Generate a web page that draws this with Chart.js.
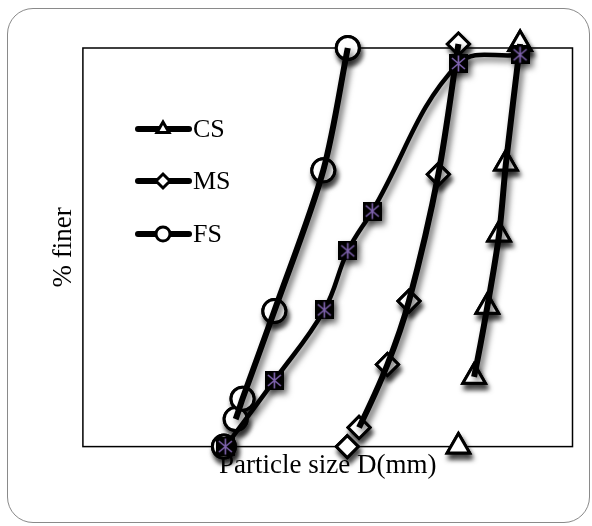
<!DOCTYPE html>
<html>
<head>
<meta charset="utf-8">
<script src="https://cdn.jsdelivr.net/npm/chart.js@4.4.1/dist/chart.umd.min.js"></script>
<style>
  html, body { margin: 0; padding: 0; background: #fff; }
  #wrap { position: relative; width: 592px; height: 526px; overflow: hidden; }
  #frame {
    position: absolute; left: 7px; top: 8px; width: 583px; height: 515px;
    border: 1.5px solid #8a8a8a; border-radius: 26px; box-sizing: border-box;
  }
  canvas { position: absolute; left: 0; top: 0; }
</style>
</head>
<body>
<div id="wrap">
  <div id="frame"></div>
  <canvas id="grading" width="592" height="526"></canvas>
</div>
<script>
// sieve curves (x is relative position, y is % finer)
const csX = [76.7, 79.9, 82.6, 85.0, 86.4, 89.3];
const csY = [0, 17.5, 35.1, 53.2, 71.0, 101];
const msX = [54.0, 56.4, 62.2, 66.6, 72.6, 76.7];
const msY = [0, 4.8, 20.6, 36.5, 68.3, 101];
const fsX = [28.8, 31.2, 32.6, 39.1, 49.1, 54.1];
const fsY = [0, 6.9, 12.0, 34.0, 69.3, 100];
// unlabelled mix curve with square/star markers
const mixX = [29.1, 39.1, 49.3, 54.1, 59.1, 76.7, 89.3];
const mixY = [0, 16.6, 34.3, 49.1, 59.1, 96.1, 98.3];

const seriesNames = ['CS', 'MS', 'FS'];
const seriesMarks = ['triangle', 'rectRot', 'circle'];
const legendY = [129, 181, 234];

const SERIF = '"Liberation Serif", "Times New Roman", serif';

const toPoints = (xs, ys) => xs.map((x, i) => ({ x, y: ys[i] }));

// black square with purple asterisk
const makeSquareStar = () => {
  const c = document.createElement('canvas');
  c.width = 19;
  c.height = 19;
  const g = c.getContext('2d');
  g.fillStyle = '#000';
  g.fillRect(0, 0, 19, 19);
  g.strokeStyle = '#8064b0';
  g.lineWidth = 1.6;
  g.beginPath();
  g.moveTo(9.5, 1.5); g.lineTo(9.5, 17.5);
  g.moveTo(3, 4); g.lineTo(16, 15);
  g.moveTo(16, 4); g.lineTo(3, 15);
  g.stroke();
  return c;
};

// line only; the lonely bottom marker is not joined in the picture
const curve = (label, xs, ys) => ({
  label,
  data: toPoints(xs, ys),
  borderColor: '#000',
  borderWidth: 6,
  tension: 0.3,
  pointRadius: 0,
  segment: {
    borderColor: (c) => (c.p0DataIndex === 0 ? 'rgba(0,0,0,0)' : undefined),
  },
  shadow: 'line',
  order: 1,
  clip: false,
});

// markers only, drawn underneath the lines
const marks = (label, xs, ys, style, radius) => ({
  label: label + ' marks',
  data: toPoints(xs, ys),
  showLine: false,
  pointStyle: style,
  pointRadius: radius,
  pointHoverRadius: radius,
  pointBorderWidth: 3,
  pointBackgroundColor: '#fff',
  pointBorderColor: '#000',
  shadow: 'mark',
  order: 2,
  clip: false,
});

const shadowPlugin = {
  id: 'shadow',
  beforeDatasetsDraw(chart) {
    const { ctx, chartArea: a } = chart;
    ctx.save();
    ctx.strokeStyle = '#000';
    ctx.lineWidth = 1.5;
    ctx.strokeRect(a.left, a.top, a.right - a.left, a.bottom - a.top);
    ctx.restore();
  },
  beforeDatasetDraw(chart, args) {
    const ctx = chart.ctx;
    const kind = chart.data.datasets[args.index].shadow;
    ctx.save();
    if (kind === 'line') {
      ctx.shadowColor = 'rgba(0,0,0,0.6)';
      ctx.shadowBlur = 6;
      ctx.shadowOffsetX = 3;
      ctx.shadowOffsetY = 4;
    } else if (kind === 'mark') {
      ctx.shadowColor = 'rgba(0,0,0,0.75)';
      ctx.shadowBlur = 5;
      ctx.shadowOffsetX = 2;
      ctx.shadowOffsetY = 5;
    }
  },
  afterDatasetDraw(chart, args) {
    const ctx = chart.ctx;
    ctx.restore();
    // paint the markers again without shadow so they stay clean inside
    if (chart.data.datasets[args.index].shadow === 'mark') {
      args.meta.data.forEach((pt) => pt.draw(ctx));
    }
  },
};

const legendPlugin = {
  id: 'insideLegend',
  afterDraw(chart) {
    const ctx = chart.ctx;
    ctx.save();
    seriesNames.forEach((name, i) => {
      const y = legendY[i];
      ctx.strokeStyle = '#000';
      ctx.lineWidth = 6;
      ctx.lineCap = 'round';
      ctx.beginPath();
      ctx.moveTo(138, y);
      ctx.lineTo(189, y);
      ctx.stroke();
      ctx.fillStyle = '#fff';
      ctx.lineWidth = 3;
      Chart.helpers.drawPoint(ctx, { pointStyle: seriesMarks[i], radius: 7, borderWidth: 3, rotation: 0 }, 163, y);
      ctx.fillStyle = '#000';
      ctx.font = '26px ' + SERIF;
      ctx.textBaseline = 'middle';
      ctx.textAlign = 'left';
      ctx.fillText(name, 193, y + 1);
    });
    ctx.restore();
  },
};

new Chart(document.getElementById('grading'), {
  type: 'line',
  data: {
    datasets: [
      {
        label: 'mix',
        data: toPoints(mixX, mixY),
        borderColor: '#000',
        borderWidth: 4.5,
        tension: 0.4,
        pointStyle: makeSquareStar(),
        shadow: 'line',
        order: -1,
        clip: false,
      },
      curve(seriesNames[0], csX, csY),
      curve(seriesNames[1], msX, msY),
      curve(seriesNames[2], fsX, fsY),
      marks(seriesNames[0], csX, csY, seriesMarks[0], 13),
      marks(seriesNames[1], msX, msY, seriesMarks[1], 11),
      marks(seriesNames[2], fsX, fsY, seriesMarks[2], 11.5),
    ],
  },
  options: {
    responsive: false,
    animation: false,
    layout: { autoPadding: false, padding: { left: 48, right: 19.5, top: 48, bottom: 44 } },
    plugins: { legend: { display: false }, tooltip: { enabled: false } },
    scales: {
      x: {
        type: 'linear',
        min: 0,
        max: 100,
        grid: { display: false },
        border: { display: false },
        ticks: { display: false },
        title: {
          display: true,
          text: 'Particle size D(mm)',
          color: '#000',
          font: { family: SERIF, size: 27 },
          padding: { top: -5, bottom: 0 },
        },
      },
      y: {
        min: 0,
        max: 100,
        grid: { display: false },
        border: { display: false },
        ticks: { display: false },
        title: {
          display: true,
          text: '% finer',
          color: '#000',
          font: { family: SERIF, size: 27 },
          padding: { top: 0, bottom: -5.5 },
        },
      },
    },
  },
  plugins: [shadowPlugin, legendPlugin],
});
</script>
</body>
</html>
